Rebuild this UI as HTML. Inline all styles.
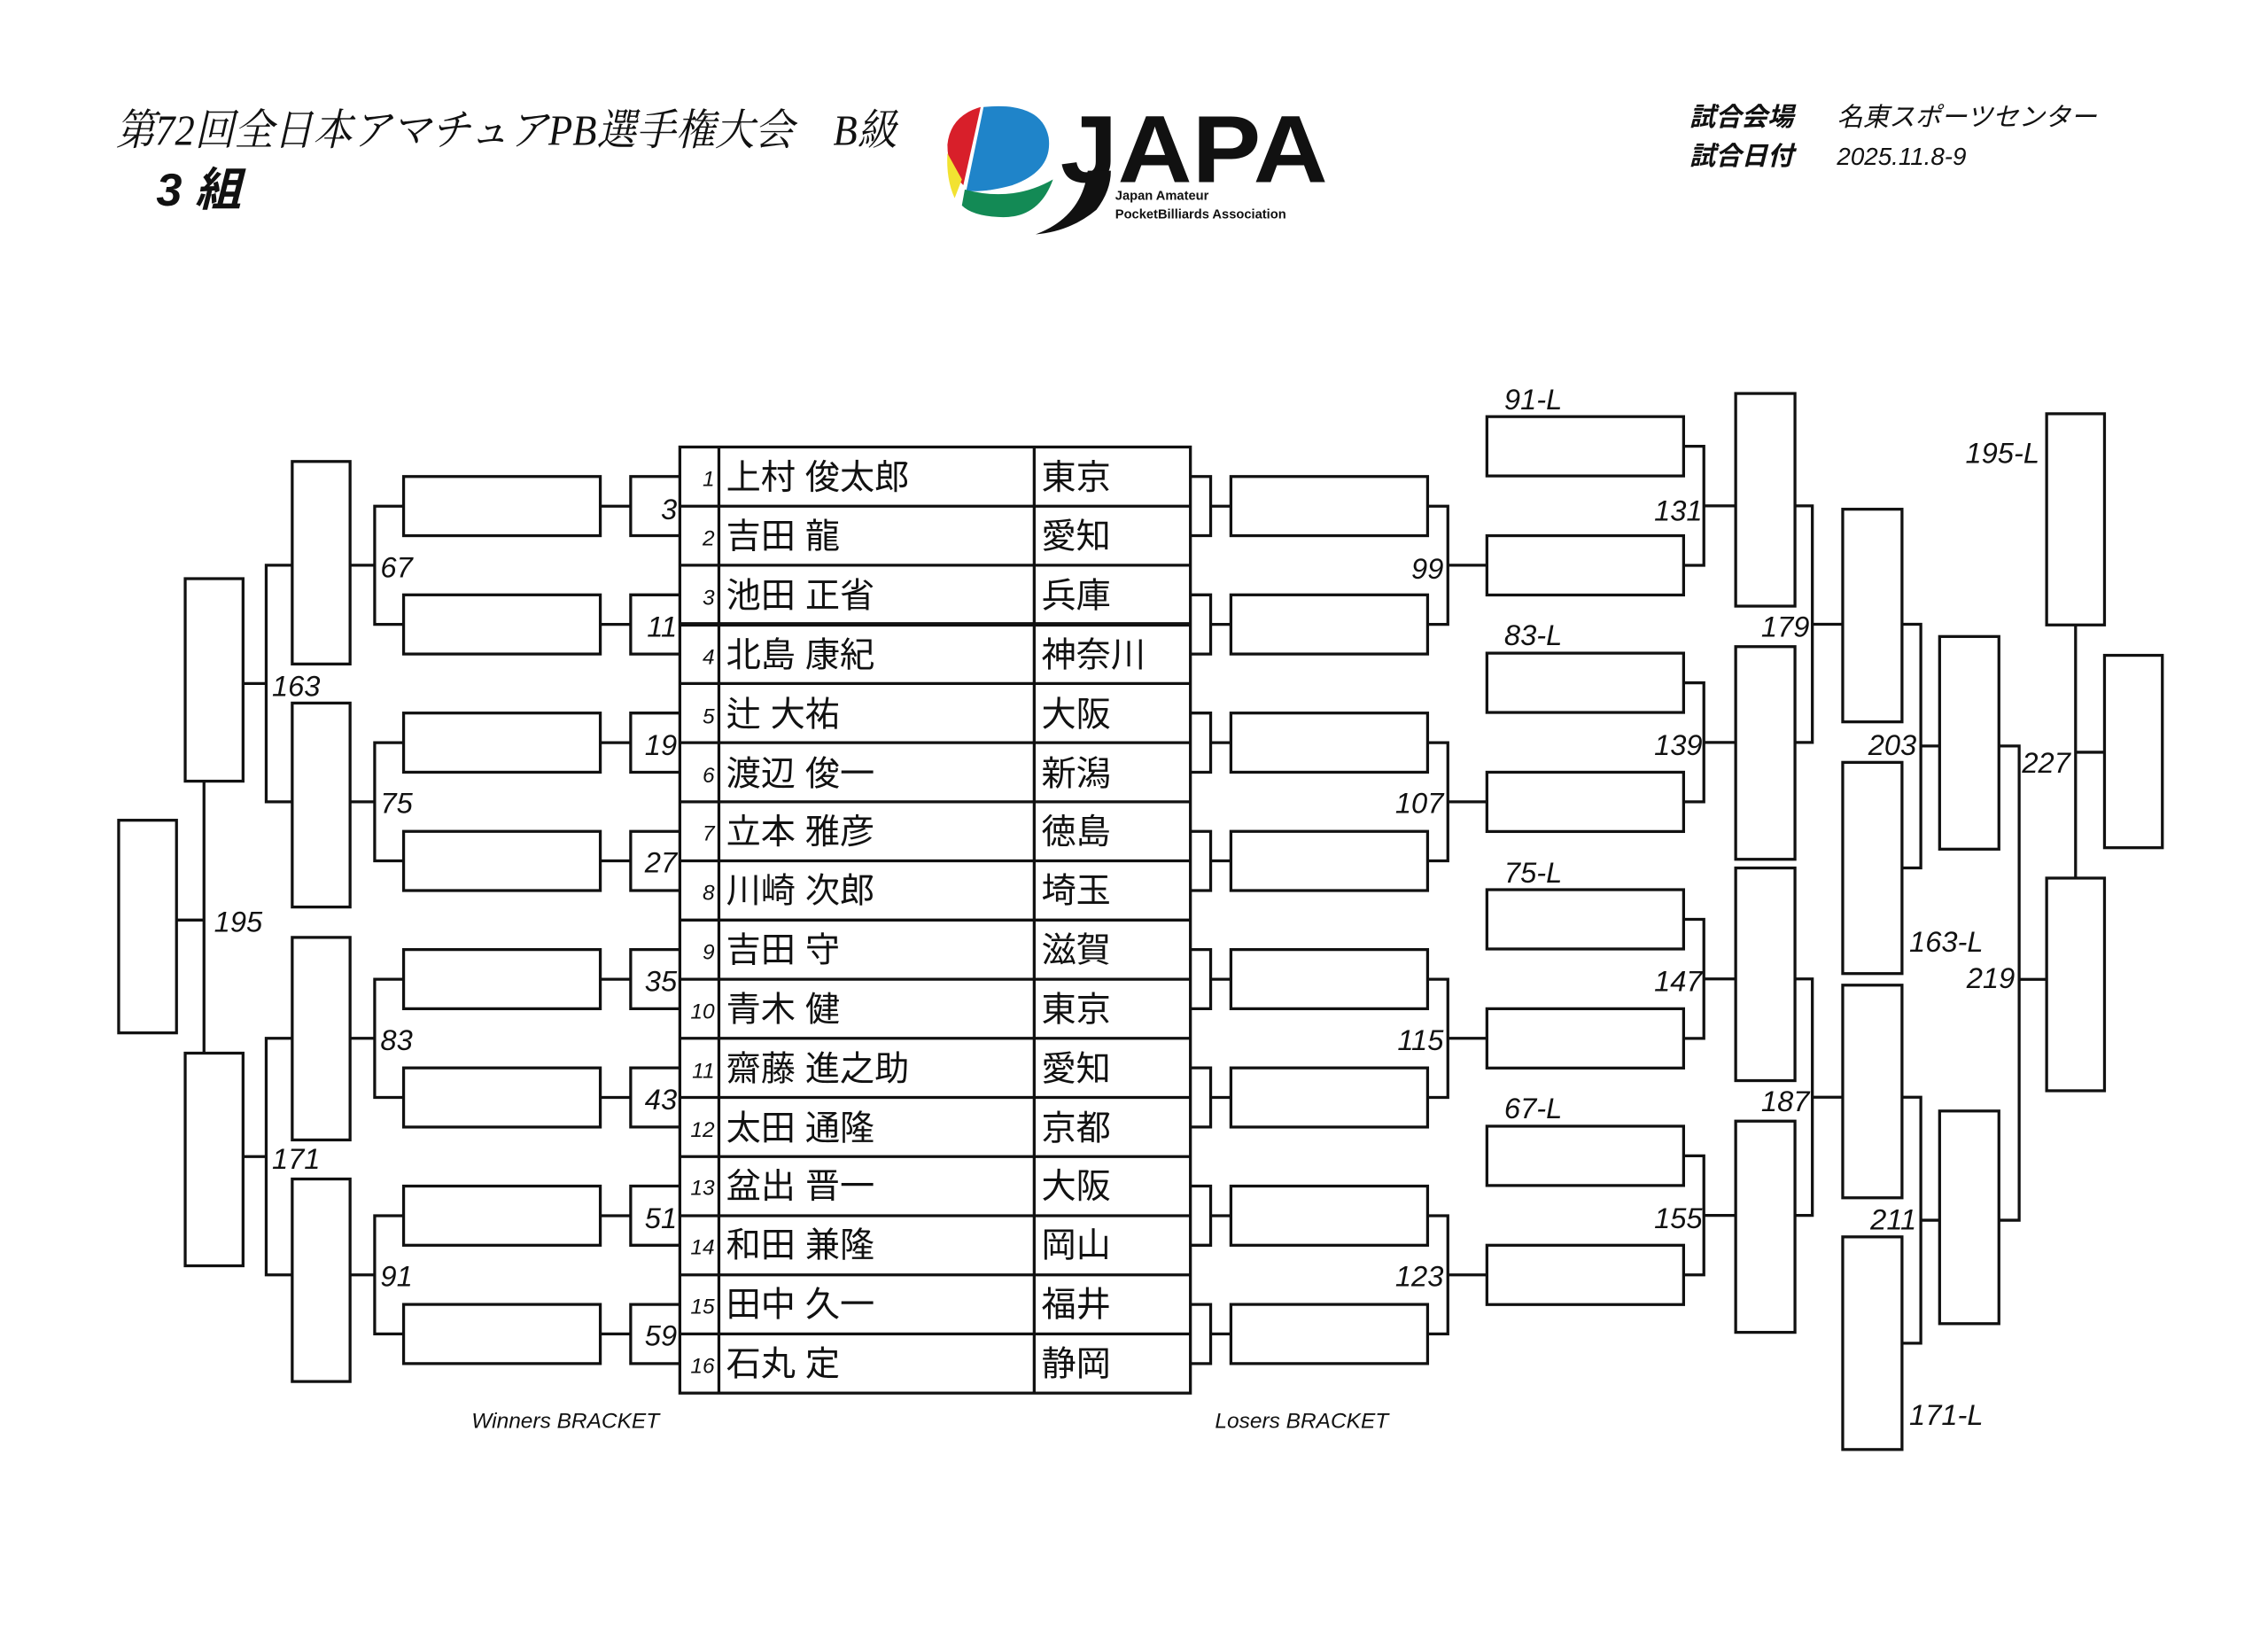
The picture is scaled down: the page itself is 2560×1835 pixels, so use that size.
<!DOCTYPE html>
<html><head><meta charset="utf-8">
<style>
html,body{margin:0;padding:0;background:#fff;}
svg{display:block;}
text{font-family:"Liberation Sans","Noto Sans CJK JP",sans-serif;fill:#111;}
.n{font-style:italic;font-size:20px;}
.rn{font-style:italic;font-size:15px;text-anchor:end;}
.nm{font-size:24px;}
.lb{font-style:italic;font-size:15px;}
</style></head>
<body>
<svg width="2560" height="1835" viewBox="0 0 1568 1124" xmlns="http://www.w3.org/2000/svg">
<rect width="1568" height="1124" fill="#fff"/>
<!-- header -->
<text x="80" y="100" font-size="30" font-style="italic" textLength="540" lengthAdjust="spacingAndGlyphs" style="font-family:'Liberation Serif','Noto Serif CJK SC',serif">第72回全日本アマチュアPB選手権大会　B級</text>
<text x="108" y="142" font-size="32" font-style="italic" font-weight="bold">3 組</text>
<text x="1168" y="87" font-size="18" font-style="italic" font-weight="bold">試合会場</text>
<text x="1270" y="87" font-size="18" font-style="italic">名東スポーツセンター</text>
<text x="1168" y="114" font-size="18" font-style="italic" font-weight="bold">試合日付</text>
<text x="1270" y="114" font-size="17" font-style="italic">2025.11.8-9</text>
<!-- logo -->
<g>
<path d="M680,74 Q720,70 725,95 Q728,118 700,128 Q682,133 668,132 Z" fill="#1f84c9"/>
<path d="M678,74 L666,128 Q655,118 655,100 Q657,80 678,74 Z" fill="#d81f2a"/>
<path d="M655,106 L665,124 L660,137 Q654,124 655,106 Z" fill="#f2e231"/>
<path d="M667,131 Q700,140 728,124 Q718,152 690,150 Q672,149 665,142 Z" fill="#138a55"/>
<text x="733" y="126" font-size="66" font-weight="bold" textLength="185" lengthAdjust="spacingAndGlyphs" style="font-family:'Liberation Sans',sans-serif">JAPA</text>
<path d="M752,118 Q748,150 716,162 Q740,160 758,145 Q768,132 768,118 Z" fill="#111"/>
<text x="771" y="138" font-size="9" font-weight="bold">Japan Amateur</text>
<text x="771" y="151" font-size="9" font-weight="bold">PocketBilliards Association</text>
</g>

<g fill="none" stroke="#111" stroke-width="2">
<!-- table -->
<rect x="470" y="309" width="353" height="654"/>
<line x1="497" y1="309" x2="497" y2="963"/>
<line x1="715" y1="309" x2="715" y2="963"/>
<path d="M470,349.9H823M470,390.75H823M470,472.5H823M470,513.4H823M470,554.25H823M470,595.1H823M470,636H823M470,676.9H823M470,717.75H823M470,758.6H823M470,799.5H823M470,840.4H823M470,881.25H823M470,922.1H823"/>
<line x1="470" y1="431.6" x2="823" y2="431.6" stroke-width="3"/>

<!-- winners R1 small brackets + R2 boxes -->
<path d="M470,329.4H436V370.3H470M470,411.2H436V452.1H470M470,492.9H436V533.8H470M470,574.7H436V615.6H470M470,656.4H436V697.3H470M470,738.2H436V779.1H470M470,819.9H436V860.8H470M470,901.7H436V942.6H470"/>
<path d="M415,349.9H436M415,431.6H436M415,513.4H436M415,595.1H436M415,676.9H436M415,758.6H436M415,840.4H436M415,922.1H436"/>
<rect x="279" y="329.4" width="136" height="40.9"/>
<rect x="279" y="411.2" width="136" height="40.9"/>
<rect x="279" y="492.9" width="136" height="40.9"/>
<rect x="279" y="574.7" width="136" height="40.9"/>
<rect x="279" y="656.4" width="136" height="40.9"/>
<rect x="279" y="738.2" width="136" height="40.9"/>
<rect x="279" y="819.9" width="136" height="40.9"/>
<rect x="279" y="901.7" width="136" height="40.9"/>
<!-- R2 brackets -->
<path d="M279,349.9H259V431.6H279M279,513.4H259V595.1H279M279,676.9H259V758.6H279M279,840.4H259V922.1H279"/>
<path d="M242,390.75H259M242,554.25H259M242,717.75H259M242,881.25H259"/>
<rect x="202" y="319" width="40" height="140"/>
<rect x="202" y="486" width="40" height="141"/>
<rect x="202" y="648" width="40" height="140"/>
<rect x="202" y="815" width="40" height="140"/>
<path d="M202,390.75H184V554.25H202M202,717.75H184V881.25H202"/>
<path d="M168,472.5H184M168,799.5H184"/>
<rect x="128" y="400" width="40" height="140"/>
<rect x="128" y="728" width="40" height="147"/>
<path d="M141,540V728M122,636H141"/>
<rect x="82" y="567" width="40" height="147"/>

<!-- losers L0 stubs + L1 boxes -->
<path d="M823,329.4H837V370.3H823M823,411.2H837V452.1H823M823,492.9H837V533.8H823M823,574.7H837V615.6H823M823,656.4H837V697.3H823M823,738.2H837V779.1H823M823,819.9H837V860.8H823M823,901.7H837V942.6H823"/>
<path d="M837,349.9H851M837,431.6H851M837,513.4H851M837,595.1H851M837,676.9H851M837,758.6H851M837,840.4H851M837,922.1H851"/>
<rect x="851" y="329.4" width="136" height="40.9"/>
<rect x="851" y="411.2" width="136" height="40.9"/>
<rect x="851" y="492.9" width="136" height="40.9"/>
<rect x="851" y="574.7" width="136" height="40.9"/>
<rect x="851" y="656.4" width="136" height="40.9"/>
<rect x="851" y="738.2" width="136" height="40.9"/>
<rect x="851" y="819.9" width="136" height="40.9"/>
<rect x="851" y="901.7" width="136" height="40.9"/>
<path d="M987,349.9H1001V431.6H987M987,513.4H1001V595.1H987M987,676.9H1001V758.6H987M987,840.4H1001V922.1H987"/>
<path d="M1001,390.75H1028M1001,554.25H1028M1001,717.75H1028M1001,881.25H1028"/>
<!-- L2 boxes -->
<rect x="1028" y="288" width="136" height="41"/>
<rect x="1028" y="370.3" width="136" height="41"/>
<rect x="1028" y="451.5" width="136" height="41"/>
<rect x="1028" y="533.8" width="136" height="41"/>
<rect x="1028" y="615" width="136" height="41"/>
<rect x="1028" y="697.3" width="136" height="41"/>
<rect x="1028" y="778.5" width="136" height="41"/>
<rect x="1028" y="860.8" width="136" height="41"/>
<path d="M1164,308.5H1178V390.8H1164M1164,472H1178V554.3H1164M1164,635.5H1178V717.8H1164M1164,799H1178V881.3H1164"/>
<path d="M1178,349.7H1200M1178,513.2H1200M1178,676.7H1200M1178,840.2H1200"/>
<!-- L3 -->
<rect x="1200" y="272" width="41" height="147"/>
<rect x="1200" y="447" width="41" height="147"/>
<rect x="1200" y="600" width="41" height="147"/>
<rect x="1200" y="775" width="41" height="146"/>
<path d="M1241,349.7H1253V513.2H1241M1241,676.7H1253V840.2H1241"/>
<path d="M1253,431.5H1274M1253,758.5H1274"/>
<!-- L4 -->
<rect x="1274" y="352" width="41" height="147"/>
<rect x="1274" y="527" width="41" height="146"/>
<rect x="1274" y="681" width="41" height="147"/>
<rect x="1274" y="855" width="41" height="147"/>
<path d="M1315,431.5H1328V600H1315M1315,758.5H1328V928.5H1315"/>
<path d="M1328,515.7H1341M1328,843.5H1341"/>
<!-- L5 -->
<rect x="1341" y="440" width="41" height="147"/>
<rect x="1341" y="768" width="41" height="147"/>
<path d="M1382,515.7H1396V843.5H1382M1396,677H1415"/>
<rect x="1415" y="286" width="40" height="146"/>
<rect x="1415" y="607" width="40" height="147"/>
<path d="M1435,432V607M1435,520H1455"/>
<rect x="1455" y="453" width="40" height="133"/>
</g>

<!-- table text -->
<g class="rn">
<text class="rn" x="494" y="336">1</text><text class="rn" x="494" y="377">2</text><text class="rn" x="494" y="418">3</text><text class="rn" x="494" y="459">4</text>
<text class="rn" x="494" y="500">5</text><text class="rn" x="494" y="541">6</text><text class="rn" x="494" y="581">7</text><text class="rn" x="494" y="622">8</text>
<text class="rn" x="494" y="663">9</text><text class="rn" x="494" y="704">10</text><text class="rn" x="494" y="745">11</text><text class="rn" x="494" y="786">12</text>
<text class="rn" x="494" y="826">13</text><text class="rn" x="494" y="867">14</text><text class="rn" x="494" y="908">15</text><text class="rn" x="494" y="949">16</text>
</g>
<g class="nm">
<text class="nm" x="502" y="338">上村 俊太郎</text><text class="nm" x="720" y="338">東京</text>
<text class="nm" x="502" y="379">吉田 龍</text><text class="nm" x="720" y="379">愛知</text>
<text class="nm" x="502" y="420">池田 正省</text><text class="nm" x="720" y="420">兵庫</text>
<text class="nm" x="502" y="461">北島 康紀</text><text class="nm" x="720" y="461">神奈川</text>
<text class="nm" x="502" y="502">辻 大祐</text><text class="nm" x="720" y="502">大阪</text>
<text class="nm" x="502" y="543">渡辺 俊一</text><text class="nm" x="720" y="543">新潟</text>
<text class="nm" x="502" y="583">立本 雅彦</text><text class="nm" x="720" y="583">徳島</text>
<text class="nm" x="502" y="624">川崎 次郎</text><text class="nm" x="720" y="624">埼玉</text>
<text class="nm" x="502" y="665">吉田 守</text><text class="nm" x="720" y="665">滋賀</text>
<text class="nm" x="502" y="706">青木 健</text><text class="nm" x="720" y="706">東京</text>
<text class="nm" x="502" y="747">齋藤 進之助</text><text class="nm" x="720" y="747">愛知</text>
<text class="nm" x="502" y="788">太田 通隆</text><text class="nm" x="720" y="788">京都</text>
<text class="nm" x="502" y="828">盆出 晋一</text><text class="nm" x="720" y="828">大阪</text>
<text class="nm" x="502" y="869">和田 兼隆</text><text class="nm" x="720" y="869">岡山</text>
<text class="nm" x="502" y="910">田中 久一</text><text class="nm" x="720" y="910">福井</text>
<text class="nm" x="502" y="951">石丸 定</text><text class="nm" x="720" y="951">静岡</text>
</g>

<!-- winners labels -->
<g class="n" text-anchor="end">
<text class="n" x="468" y="359">3</text><text class="n" x="468" y="440">11</text><text class="n" x="468" y="522">19</text><text class="n" x="468" y="603">27</text>
<text class="n" x="468" y="685">35</text><text class="n" x="468" y="767">43</text><text class="n" x="468" y="849">51</text><text class="n" x="468" y="930">59</text>
</g>
<text class="n" x="263" y="399">67</text><text class="n" x="263" y="562">75</text><text class="n" x="263" y="726">83</text><text class="n" x="263" y="889">91</text>
<text class="n" x="188" y="481">163</text><text class="n" x="188" y="808">171</text>
<text class="n" x="148" y="644">195</text>

<!-- losers labels -->
<g text-anchor="end">
<text class="n" x="998" y="400">99</text><text class="n" x="998" y="562">107</text><text class="n" x="998" y="726">115</text><text class="n" x="998" y="889">123</text>
<text class="n" x="1177" y="360">131</text><text class="n" x="1177" y="522">139</text><text class="n" x="1177" y="685">147</text><text class="n" x="1177" y="849">155</text>
<text class="n" x="1251" y="440">179</text><text class="n" x="1251" y="768">187</text>
<text class="n" x="1325" y="522">203</text><text class="n" x="1325" y="850">211</text>
<text class="n" x="1393" y="683">219</text>
<text class="n" x="1410" y="320">195-L</text>
</g>
<text class="n" x="1040" y="283">91-L</text><text class="n" x="1040" y="446">83-L</text><text class="n" x="1040" y="610">75-L</text><text class="n" x="1040" y="773">67-L</text>
<text class="n" x="1320" y="658">163-L</text><text class="n" x="1320" y="985">171-L</text>
<text class="n" x="1398" y="534">227</text>

<text class="lb" x="326" y="987">Winners BRACKET</text>
<text class="lb" x="840" y="987">Losers BRACKET</text>
</svg>
</body></html>
